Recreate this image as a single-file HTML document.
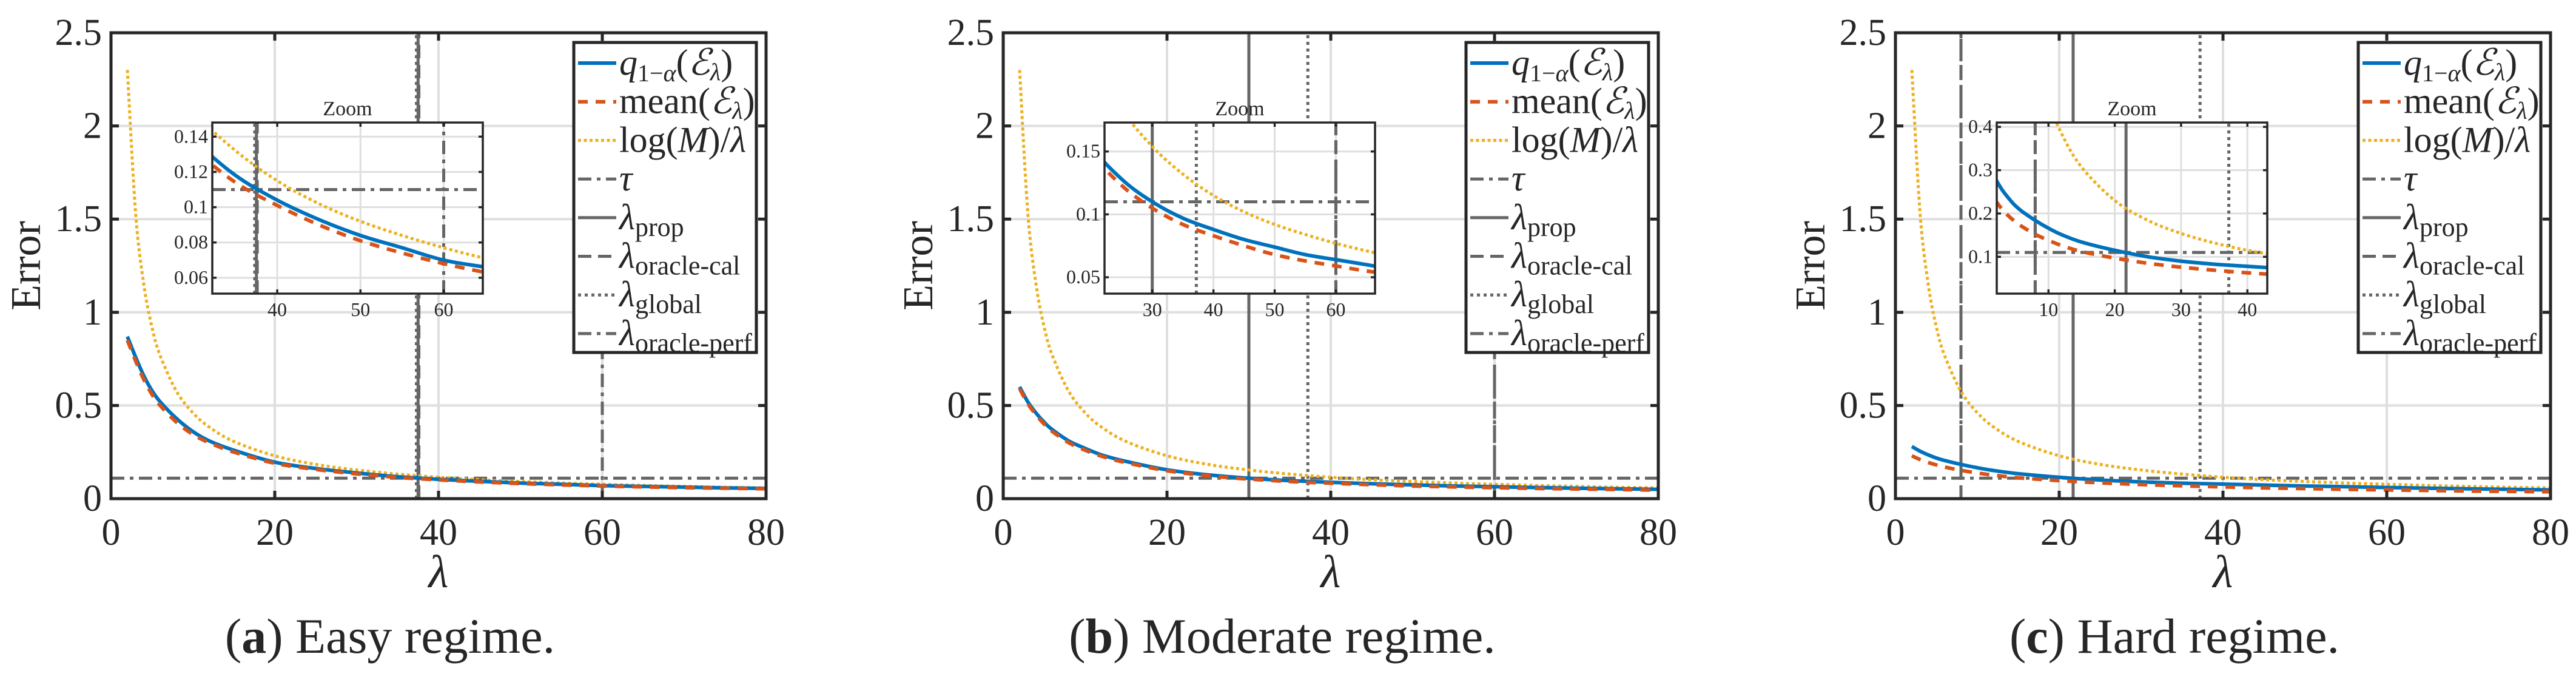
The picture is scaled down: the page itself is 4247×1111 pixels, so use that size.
<!DOCTYPE html>
<html><head><meta charset="utf-8">
<style>
html,body{margin:0;padding:0;background:#fff;}
svg{display:block;}
text{font-family:"Liberation Serif","DejaVu Serif",serif;fill:#262626;}
</style></head>
<body>
<svg id="fig" width="4247" height="1111" viewBox="0 0 4247 1111" xmlns="http://www.w3.org/2000/svg"></svg>
<script>
// ---- data ----
const lambdas = [2,3,4,5,6,8,10,12,15,20,25,30,35,40,45,50,55,60,65,70,75,80];
const logMOverLambda = [2.30,1.535,1.151,0.921,0.768,0.576,0.461,0.384,0.307,0.230,0.184,0.154,0.132,0.115,0.102,0.092,0.084,0.077,0.071,0.066,0.061,0.058];
const qEasy = [0.87,0.76,0.66,0.58,0.52,0.43,0.36,0.31,0.26,0.196,0.162,0.138,0.118,0.104,0.093,0.084,0.077,0.070,0.066,0.062,0.058,0.055];
const meanEasy = [0.85,0.74,0.64,0.56,0.50,0.41,0.345,0.30,0.25,0.19,0.157,0.133,0.114,0.101,0.090,0.081,0.074,0.068,0.063,0.059,0.056,0.053];
const qModerate = [0.60,0.52,0.46,0.41,0.37,0.31,0.27,0.235,0.20,0.155,0.128,0.110,0.097,0.088,0.080,0.074,0.068,0.064,0.060,0.056,0.053,0.050];
const meanModerate = [0.59,0.51,0.45,0.40,0.36,0.30,0.26,0.228,0.193,0.150,0.123,0.105,0.092,0.083,0.075,0.068,0.063,0.059,0.055,0.052,0.049,0.046];
const qHard = [0.28,0.255,0.235,0.218,0.205,0.184,0.166,0.151,0.134,0.115,0.100,0.090,0.083,0.078,0.073,0.068,0.064,0.060,0.056,0.053,0.050,0.047];
const meanHard = [0.23,0.21,0.194,0.181,0.170,0.152,0.138,0.126,0.112,0.097,0.085,0.076,0.069,0.063,0.058,0.054,0.050,0.047,0.044,0.041,0.039,0.037];
const tauValues = [0.11,0.11,0.11];
const lambdaProp = [37.5,30,21.7];
const lambdaOracleCal = [37.6,60,8];
const lambdaGlobal = [37.3,37.2,37.2];
const lambdaOraclePerf = [60,60,8];
const xTicks = [0,20,40,60,80];
const yTicks = [0,0.5,1,1.5,2,2.5];
const yTickLabels = ["0","0.5","1","1.5","2","2.5"];
const insetXLim = [[32.2,64.7],[22.2,66.4],[2.2,43]];
const insetYLim = [[0.051,0.148],[0.037,0.173],[0.015,0.41]];
const insetXTicks = [[40,50,60],[30,40,50,60],[10,20,30,40]];
const insetYTicks = [[0.06,0.08,0.1,0.12,0.14],[0.05,0.1,0.15],[0.1,0.2,0.3,0.4]];
const insetYTickLabels = [["0.06","0.08","0.1","0.12","0.14"],["0.05","0.1","0.15"],["0.1","0.2","0.3","0.4"]];
const captionLetters = ["a","b","c"];
const captionTexts = [" Easy regime."," Moderate regime."," Hard regime."];
const panelNames = ["easy","moderate","hard"];

// ---- drawing ----
const NS = "http://www.w3.org/2000/svg";
const svg = document.getElementById("fig");
function mk(tag, attrs, parent){ const e=document.createElementNS(NS,tag); for(const k in attrs) e.setAttribute(k,attrs[k]); (parent||svg).appendChild(e); return e; }
const BLUE="#0072BD", ORANGE="#D95319", YEL="#EDB120", GRAY="#666666", AX="#262626", GRID="#dfdfdf";
const DASHDOT="22 9 6 9", DASH="22 11", DOT="5 6";

function smoothPath(pts){
  let d="M"+pts[0][0].toFixed(1)+","+pts[0][1].toFixed(1);
  for(let i=0;i<pts.length-1;i++){
    const p0=pts[Math.max(0,i-1)],p1=pts[i],p2=pts[i+1],p3=pts[Math.min(pts.length-1,i+2)];
    const c1=[p1[0]+(p2[0]-p0[0])/6,p1[1]+(p2[1]-p0[1])/6];
    const c2=[p2[0]-(p3[0]-p1[0])/6,p2[1]-(p3[1]-p1[1])/6];
    d+=" C"+c1[0].toFixed(1)+","+c1[1].toFixed(1)+" "+c2[0].toFixed(1)+","+c2[1].toFixed(1)+" "+p2[0].toFixed(1)+","+p2[1].toFixed(1);
  }
  return d;
}

function drawAxesContent(g, X, Y, i, x0, x1, y0, y1, sc){
  const series=[[qEasy,qModerate,qHard][i],[meanEasy,meanModerate,meanHard][i],logMOverLambda];
  const tau=tauValues[i];
  const t = mk("line",{x1:X(x0),x2:X(x1),y1:Y(tau),y2:Y(tau),stroke:GRAY,"stroke-width":5*sc,"stroke-dasharray":DASHDOT},g);
  
  
  const vls=[[lambdaProp[i],"",'lambda-prop-line'],[lambdaOracleCal[i],DASH,'lambda-oracle-cal-line'],[lambdaGlobal[i],DOT,'lambda-global-line'],[lambdaOraclePerf[i],DASHDOT,'lambda-oracle-perf-line']];
  vls.forEach(v=>{
    const a={x1:X(v[0]),x2:X(v[0]),y1:Y(y0),y2:Y(y1),stroke:GRAY,"stroke-width":5*sc};
    if(v[1]) a["stroke-dasharray"]=v[1];
    const l=mk("line",a,g);
    
    
  });
  const styles=[[BLUE,6,"",'quantile-curve'],[ORANGE,6,"16 13",'mean-curve'],[YEL,5,"5 4.5",'log-m-over-lambda-curve']];
  [2,0,1].forEach(k=>{
    const pts=lambdas.map((l,j)=>[X(l),Y(series[k][j])]);
    const a={d:smoothPath(pts),fill:"none",stroke:styles[k][0],"stroke-width":styles[k][1]};
    if(styles[k][2]) a["stroke-dasharray"]=styles[k][2];
    const p=mk("path",a,g);
    
    
  });
}

for(let i=0;i<3;i++){
  const L=183+i*1471, R=L+1080, T=54, B=822;
  const X=v=>L+(v/80)*(R-L), Y=v=>B-(v/2.5)*(B-T);
  const pg=mk("g",{});
  
  
  const cid="clip"+i;
  const cp=mk("clipPath",{id:cid},pg); mk("rect",{x:L,y:T,width:R-L,height:B-T},cp);
  [20,40,60].forEach(v=>{ const g=mk("line",{x1:X(v),x2:X(v),y1:T,y2:B,stroke:GRID,"stroke-width":4},pg);  });
  [0.5,1,1.5,2].forEach(v=>{ const g=mk("line",{x1:L,x2:R,y1:Y(v),y2:Y(v),stroke:GRID,"stroke-width":4},pg);  });
  const cg=mk("g",{"clip-path":"url(#"+cid+")"},pg);
  drawAxesContent(cg,X,Y,i,0,80,0,2.5,1);
  const box=mk("rect",{x:L,y:T,width:R-L,height:B-T,fill:"none",stroke:AX,"stroke-width":5},pg);
  
  
  xTicks.forEach(v=>{
    mk("line",{x1:X(v),x2:X(v),y1:B,y2:B-13,stroke:AX,"stroke-width":5},pg);
    mk("line",{x1:X(v),x2:X(v),y1:T,y2:T+13,stroke:AX,"stroke-width":5},pg);
    const tx=mk("text",{x:X(v),y:898,"text-anchor":"middle","font-size":62},pg); tx.textContent=String(v);
    
    
  });
  yTicks.forEach((v,j)=>{
    mk("line",{x1:L,x2:L+13,y1:Y(v),y2:Y(v),stroke:AX,"stroke-width":5},pg);
    mk("line",{x1:R,x2:R-13,y1:Y(v),y2:Y(v),stroke:AX,"stroke-width":5},pg);
    const tx=mk("text",{x:L-15,y:Y(v)+20,"text-anchor":"end","font-size":62},pg); tx.textContent=yTickLabels[j];
    
    
  });
  const yl=mk("text",{x:0,y:0,"text-anchor":"middle","font-size":70,transform:"translate("+(L-117)+","+((T+B)/2)+") rotate(-90)"},pg);
  yl.textContent="Error";
  
  
  const xl=mk("text",{x:(L+R)/2,y:968,"text-anchor":"middle","font-size":76,"font-style":"italic"},pg);
  xl.textContent="λ";
  
  
  const cap=mk("text",{x:L+460,y:1076,"text-anchor":"middle","font-size":82},pg);
  
  
  mk("tspan",{},cap).textContent="(";
  mk("tspan",{"font-weight":"bold"},cap).textContent=captionLetters[i];
  mk("tspan",{},cap).textContent=")"+captionTexts[i];

  // inset
  const IL=L+167, IR=L+613, IT=202, IB=484;
  const [ix0,ix1]=insetXLim[i], [iy0,iy1]=insetYLim[i];
  const IX=v=>IL+(v-ix0)/(ix1-ix0)*(IR-IL), IY=v=>IB-(v-iy0)/(iy1-iy0)*(IB-IT);
  const ig=mk("g",{},pg);
  
  
  mk("rect",{x:IL,y:IT,width:IR-IL,height:IB-IT,fill:"#fff"},ig);
  insetXTicks[i].forEach(v=>mk("line",{x1:IX(v),x2:IX(v),y1:IT,y2:IB,stroke:GRID,"stroke-width":3},ig));
  insetYTicks[i].forEach(v=>mk("line",{x1:IL,x2:IR,y1:IY(v),y2:IY(v),stroke:GRID,"stroke-width":3},ig));
  const icid="iclip"+i;
  const icp=mk("clipPath",{id:icid},ig); mk("rect",{x:IL,y:IT,width:IR-IL,height:IB-IT},icp);
  const icg=mk("g",{"clip-path":"url(#"+icid+")"},ig);
  drawAxesContent(icg,IX,IY,i,ix0,ix1,iy0,iy1,1);
  mk("rect",{x:IL,y:IT,width:IR-IL,height:IB-IT,fill:"none",stroke:AX,"stroke-width":3.5},ig);
  insetXTicks[i].forEach(v=>{
    mk("line",{x1:IX(v),x2:IX(v),y1:IB,y2:IB-7,stroke:AX,"stroke-width":3.5},ig);
    mk("line",{x1:IX(v),x2:IX(v),y1:IT,y2:IT+7,stroke:AX,"stroke-width":3.5},ig);
    const tx=mk("text",{x:IX(v),y:521,"text-anchor":"middle","font-size":32},ig); tx.textContent=String(v);
    
    
  });
  insetYTicks[i].forEach((v,j)=>{
    mk("line",{x1:IL,x2:IL+7,y1:IY(v),y2:IY(v),stroke:AX,"stroke-width":3.5},ig);
    mk("line",{x1:IR,x2:IR-7,y1:IY(v),y2:IY(v),stroke:AX,"stroke-width":3.5},ig);
    const tx=mk("text",{x:IL-7,y:IY(v)+10,"text-anchor":"end","font-size":32},ig); tx.textContent=insetYTickLabels[i][j];
    
    
  });
  const zt=mk("text",{x:(IL+IR)/2,y:190,"text-anchor":"middle","font-size":34},ig);
  zt.textContent="Zoom";
  
  

  // legend
  const LL=L+763, LR=L+1064, LT=70, LB=581;
  const lg=mk("g",{},pg);
  
  
  mk("rect",{x:LL,y:LT,width:LR-LL,height:LB-LT,fill:"#fff",stroke:AX,"stroke-width":5},lg);
  const entries=[
    [BLUE,6,"",'legend-quantile'],[ORANGE,6,"16 13",'legend-mean'],[YEL,5,"5 4.5",'legend-log-m'],
    [GRAY,5,DASHDOT,'legend-tau'],[GRAY,5,"",'legend-lambda-prop'],[GRAY,5,DASH,'legend-lambda-oracle-cal'],
    [GRAY,5,DOT,'legend-lambda-global'],[GRAY,5,DASHDOT,'legend-lambda-oracle-perf']];
  entries.forEach((e,k)=>{
    const y=104+k*63.7;
    const eg=mk("g",{},lg);
    
    
    const a={x1:LL+7,x2:LL+70,y1:y,y2:y,stroke:e[0],"stroke-width":e[1]};
    if(e[2]) a["stroke-dasharray"]=e[2];
    mk("line",a,eg);
    const tx=mk("text",{x:LL+75,y:y+19,"font-size":60},eg);
    const sp=(t,at)=>{const s=mk("tspan",at||{},tx); s.textContent=t; return s;};
    if(k===0){ sp("q",{"font-style":"italic"}); sp("1−",{dy:11,"font-size":40}); sp("α",{"font-style":"italic","font-size":40}); sp("(",{dy:-11}); sp("ℰ",{"font-style":"italic"}); sp("λ",{"font-style":"italic","font-size":40,dy:9}); sp(")",{dy:-9}); }
    else if(k===1){ sp("mean("); sp("ℰ",{"font-style":"italic"}); sp("λ",{"font-style":"italic","font-size":40,dy:9}); sp(")",{dy:-9}); }
    else if(k===2){ sp("log("); sp("M",{"font-style":"italic"}); sp(")/"); sp("λ",{"font-style":"italic"}); }
    else if(k===3){ sp("τ",{"font-style":"italic"}); }
    else { const subs=["prop","oracle-cal","global","oracle-perf"]; sp("λ",{"font-style":"italic"}); sp(subs[k-4],{"font-size":44,dy:11}); }
  });
}
</script>
</body></html>
